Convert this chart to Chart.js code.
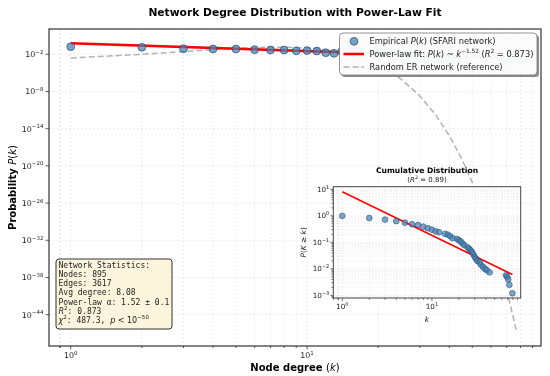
<!DOCTYPE html>
<html><head><meta charset="utf-8">
<script src="https://cdn.jsdelivr.net/npm/chart.js@4.4.1/dist/chart.umd.min.js"></script>
<style>
html,body{margin:0;padding:0;background:#fff;}
#wrap{position:relative;width:550px;height:376px;overflow:hidden;}
#main{position:absolute;left:0;top:0;}
#inset{position:absolute;left:290px;top:155px;}
</style></head><body>
<div id="wrap"><canvas id="main" width="550" height="376"></canvas><canvas id="inset" width="255" height="175"></canvas></div>
<script>
// ---------------- data ----------------
const empDegree = [1,2,3,4,5,6,7,8,9,10,11,12,13,14,15,16,17,19,20,21,22,23,25,26,27,28,29,30,31,32,34,35,37,39,41,44,67,69,71,73,79];
const empProb   = [0.17,0.135,0.08,0.072,0.072,0.055,0.049,0.049,0.036,0.04,0.034,0.018,0.0145,0.026,0.026,0.027,0.008,0.015,0.013,0.017,0.012,0.013,0.008,0.007,0.007,0.008,0.007,0.004,0.004,0.0022,0.0033,0.0025,0.002,0.0011,0.0015,0.0017,0.0011,0.0011,0.0011,0.0011,0.0011];
const fitDegree = [1,79];
const fitProb   = [0.59,0.00237];
const erDegree  = [1,2,3,4,5,6,7,8,9,10,11,12,14,15,16,18,20,22,25,30,35,40,45,50,55,60,65,70,75,77];
const erProb    = [2.50e-3,1.01e-2,2.72e-2,5.51e-2,8.89e-2,0.120,0.138,0.139,0.125,0.101,7.43e-2,5.01e-2,1.80e-2,9.66e-3,4.89e-3,1.04e-3,1.79e-4,2.53e-5,9.66e-7,1.95e-9,1.72e-12,7.50e-16,1.76e-19,2.39e-23,1.98e-27,1.04e-31,3.61e-36,8.55e-41,1.42e-45,1.58e-47];
const ccdfDegree = [1,2,3,4,5,6,7,8,9,10,11,12,14,15,16,17,19,20,21,22,23,25,26,27,28,29,30,31,32,34,35,37,39,41,44,67,69,71,73,79];
const ccdfProb   = [1.0,0.83,0.72,0.63,0.55,0.48,0.45,0.39,0.34,0.30,0.26,0.24,0.21,0.196,0.17,0.143,0.135,0.12,0.107,0.09,0.078,0.065,0.057,0.05,0.043,0.035,0.028,0.024,0.02,0.0178,0.0145,0.012,0.01,0.0089,0.0074,0.0057,0.005,0.004,0.0025,0.0012];
const ccdfFitDegree = [1,79];
const ccdfFitProb   = [8.05,0.0061];
const mainYTickExps = [-2,-8,-14,-20,-26,-32,-38,-44];
const mainXTickExps = [0,1];
const insetYTickExps = [1,0,-1,-2,-3];
const insetXTickExps = [0,1];
const minorSubs = [2,3,4,5,6,7,8,9];

// ---------------- helpers ----------------
const SANS = '"DejaVu Sans", sans-serif';
const MONO = '"DejaVu Sans Mono", monospace';
function F(size, style){ return (style||'') + ' ' + size + 'px ' + SANS; }
function M(size){ return size + 'px ' + MONO; }
function drawRich(ctx, segs, x, y, align, color){
  ctx.textBaseline = 'alphabetic'; ctx.textAlign = 'left';
  let w = 0;
  for (const s of segs){ ctx.font = s.f; s.w = ctx.measureText(s.t).width; w += s.w; }
  let cx = align === 'center' ? x - w/2 : (align === 'right' ? x - w : x);
  ctx.fillStyle = color || '#000';
  for (const s of segs){ ctx.font = s.f; ctx.fillText(s.t, cx, y - (s.dy||0)); cx += s.w; }
  return w;
}
function powSegs(e, size){
  return [{t:'10', f:F(size)}, {t:String(e).replace('-','\u2212'), f:F(size*0.7), dy:size*0.42}];
}
function roundRect(ctx, x, y, w, h, r){
  ctx.beginPath();
  ctx.moveTo(x+r,y); ctx.lineTo(x+w-r,y); ctx.quadraticCurveTo(x+w,y,x+w,y+r);
  ctx.lineTo(x+w,y+h-r); ctx.quadraticCurveTo(x+w,y+h,x+w-r,y+h);
  ctx.lineTo(x+r,y+h); ctx.quadraticCurveTo(x,y+h,x,y+h-r);
  ctx.lineTo(x,y+r); ctx.quadraticCurveTo(x,y,x+r,y); ctx.closePath();
}
function pts(xs, ys){ return xs.map((k,i)=>({x:k, y:ys[i]})); }
function minorList(lo, hi){
  const out = [];
  for (let e = Math.floor(Math.log10(lo)) - 1; e <= Math.ceil(Math.log10(hi)); e++)
    for (const s of minorSubs){ const v = s*Math.pow(10,e); if (v > lo && v < hi) out.push(v); }
  return out;
}
function vline(ctx, x, y0, y1){ ctx.beginPath(); ctx.moveTo(x,y0); ctx.lineTo(x,y1); ctx.stroke(); }
function hline(ctx, y, x0, x1){ ctx.beginPath(); ctx.moveTo(x0,y); ctx.lineTo(x1,y); ctx.stroke(); }

const ptFill = 'rgba(70,130,180,0.72)';
const ptEdge = 'rgba(30,70,110,0.85)';

// ---------------- main chart ----------------
const mainXMin = Math.pow(10,-0.092), mainXMax = Math.pow(10,1.99);
const mainYMin = Math.pow(10,-49.05), mainYMax = Math.pow(10,2.08);

const mainDeco = {
  id:'mainDeco',
  beforeDatasetsDraw(chart){
    const ctx = chart.ctx, a = chart.chartArea, xs = chart.scales.x, ys = chart.scales.y;
    ctx.save();
    ctx.strokeStyle = 'rgba(0,0,0,0.09)'; ctx.lineWidth = 0.8; ctx.setLineDash([2,2]);
    const xg = [0.9].concat(mainXTickExps.map(e=>Math.pow(10,e)), minorList(mainXMin, mainXMax));
    for (const v of xg){ const px = xs.getPixelForValue(v); if (px>a.left && px<a.right) vline(ctx, px, a.top, a.bottom); }
    for (const e of mainYTickExps){ const py = ys.getPixelForValue(Math.pow(10,e)); hline(ctx, py, a.left, a.right); }
    ctx.restore();
  },
  afterDraw(chart){
    const ctx = chart.ctx, a = chart.chartArea, xs = chart.scales.x, ys = chart.scales.y;
    ctx.save();
    // ticks
    ctx.strokeStyle = '#333'; ctx.lineWidth = 0.8; ctx.setLineDash([]);
    for (const e of mainXTickExps){ const px = xs.getPixelForValue(Math.pow(10,e)); vline(ctx, px, a.bottom, a.bottom+3.5); }
    for (const v of minorList(mainXMin, mainXMax).concat([0.9])){ const px = xs.getPixelForValue(v); if (px>a.left && px<a.right) vline(ctx, px, a.bottom, a.bottom+2); }
    for (const e of mainYTickExps){ const py = ys.getPixelForValue(Math.pow(10,e)); hline(ctx, py, a.left-3.5, a.left); }
    // frame
    ctx.lineWidth = 1.2; ctx.strokeStyle = '#333';
    ctx.strokeRect(a.left, a.top, a.right-a.left, a.bottom-a.top);
    // tick labels
    for (const e of mainYTickExps){ const py = ys.getPixelForValue(Math.pow(10,e)); drawRich(ctx, powSegs(e,7.9), a.left-5.5, py+2.9, 'right', '#222'); }
    for (const e of mainXTickExps){ const px = xs.getPixelForValue(Math.pow(10,e)); drawRich(ctx, powSegs(e,7.9), px, a.bottom+12, 'center', '#222'); }
    // title
    drawRich(ctx, [{t:'Network Degree Distribution with Power-Law Fit', f:F(10.7,'bold')}], (a.left+a.right)/2, 16.3, 'center');
    // x label
    drawRich(ctx, [{t:'Node degree ', f:F(10,'bold')},{t:'(', f:F(10)},{t:'k', f:F(10,'italic')},{t:')', f:F(10)}], (a.left+a.right)/2, 370.5, 'center');
    // y label
    ctx.save(); ctx.translate(15.7, (a.top+a.bottom)/2); ctx.rotate(-Math.PI/2);
    drawRich(ctx, [{t:'Probability ', f:F(10,'bold')},{t:'P', f:F(10,'italic')},{t:'(', f:F(10)},{t:'k', f:F(10,'italic')},{t:')', f:F(10)}], 0, 0, 'center');
    ctx.restore();
    // legend
    const lx = 339.5, ly = 33, lw = 197.5, lh = 42;
    ctx.fillStyle = 'rgba(0,0,0,0.45)'; roundRect(ctx, lx+2, ly+2, lw, lh, 3.5); ctx.fill();
    ctx.fillStyle = 'rgba(255,255,255,0.96)'; roundRect(ctx, lx, ly, lw, lh, 3.5); ctx.fill();
    ctx.strokeStyle = '#777'; ctx.lineWidth = 0.8; ctx.stroke();
    const ls = 8.3, tx = 369.5;
    // row 1
    ctx.beginPath(); ctx.arc(354, 41.3, 3.9, 0, Math.PI*2); ctx.fillStyle = ptFill; ctx.fill(); ctx.strokeStyle = ptEdge; ctx.lineWidth = 0.8; ctx.stroke();
    drawRich(ctx, [{t:'Empirical ', f:F(ls)},{t:'P', f:F(ls,'italic')},{t:'(', f:F(ls)},{t:'k', f:F(ls,'italic')},{t:') (SFARI network)', f:F(ls)}], tx, 44.3, 'left', '#222');
    // row 2
    ctx.strokeStyle = '#ff0000'; ctx.lineWidth = 2.5; hline(ctx, 54, 343.5, 364);
    drawRich(ctx, [{t:'Power-law fit: ', f:F(ls)},{t:'P', f:F(ls,'italic')},{t:'(', f:F(ls)},{t:'k', f:F(ls,'italic')},{t:') ~ ', f:F(ls)},{t:'k', f:F(ls,'italic')},{t:'\u22121.52', f:F(ls*0.7), dy:ls*0.45},{t:' (', f:F(ls)},{t:'R', f:F(ls,'italic')},{t:'2', f:F(ls*0.7), dy:ls*0.45},{t:' = 0.873)', f:F(ls)}], tx, 57, 'left', '#222');
    // row 3
    ctx.strokeStyle = 'rgba(128,128,128,0.6)'; ctx.lineWidth = 1.5; ctx.setLineDash([6,3]); hline(ctx, 67, 343.5, 364); ctx.setLineDash([]);
    drawRich(ctx, [{t:'Random ER network (reference)', f:F(ls)}], tx, 70, 'left', '#222');
    // stats box
    ctx.fillStyle = '#fcf4dc'; roundRect(ctx, 56, 259, 116, 70, 3); ctx.fill();
    ctx.strokeStyle = '#333'; ctx.lineWidth = 1; ctx.stroke();
    const ms = 8, sx = 58.5, sy0 = 267.7, dl = 9.2;
    const lines = [
      [{t:'Network Statistics:', f:M(ms)}],
      [{t:'Nodes: 895', f:M(ms)}],
      [{t:'Edges: 3617', f:M(ms)}],
      [{t:'Avg degree: 8.08', f:M(ms)}],
      [{t:'Power-law \u03b1: 1.52 \u00b1 0.1', f:M(ms)}],
      [{t:'R', f:F(ms,'italic')},{t:'2', f:F(ms*0.7), dy:ms*0.45},{t:': 0.873', f:M(ms)}],
      [{t:'\u03c7', f:F(ms,'italic')},{t:'2', f:F(ms*0.7), dy:ms*0.45},{t:': 487.3, ', f:M(ms)},{t:'p', f:F(ms,'italic')},{t:' < 10', f:F(ms)},{t:'\u221250', f:F(ms*0.7), dy:ms*0.45}]
    ];
    lines.forEach((l,i)=>drawRich(ctx, l, sx, sy0 + i*dl, 'left', '#222'));
    ctx.restore();
  }
};

new Chart(document.getElementById('main'), {
  type:'scatter',
  data:{datasets:[
    {label:'Empirical', data:pts(empDegree, empProb), showLine:false, pointRadius:3.9, pointBackgroundColor:ptFill, pointBorderColor:ptEdge, pointBorderWidth:0.8, order:0},
    {label:'Power-law fit', data:pts(fitDegree, fitProb), showLine:true, borderColor:'#ff0000', borderWidth:2.6, pointRadius:0, order:1},
    {label:'Random ER', data:pts(erDegree, erProb), showLine:true, borderColor:'rgba(128,128,128,0.6)', borderWidth:1.5, borderDash:[6,3], pointRadius:0, order:2}
  ]},
  options:{
    responsive:false, animation:false, devicePixelRatio:1,
    layout:{padding:{left:0, top:29, right:9, bottom:0}},
    plugins:{legend:{display:false}, tooltip:{enabled:false}, title:{display:false}},
    scales:{
      x:{type:'logarithmic', min:mainXMin, max:mainXMax, bounds:'data', grid:{display:false}, border:{display:false}, ticks:{display:false}, afterFit(s){ s.height = 30; }},
      y:{type:'logarithmic', min:mainYMin, max:mainYMax, bounds:'data', grid:{display:false}, border:{display:false}, ticks:{display:false}, afterFit(s){ s.width = 49; }}
    }
  },
  plugins:[mainDeco]
});

// ---------------- inset chart ----------------
const insXMin = Math.pow(10,-0.1), insXMax = Math.pow(10,1.99);
const insYMin = Math.pow(10,-3.1), insYMax = Math.pow(10,1.098);

const insetDeco = {
  id:'insetDeco',
  beforeDraw(chart){
    const ctx = chart.ctx, a = chart.chartArea;
    ctx.save(); ctx.fillStyle = '#fff'; ctx.fillRect(a.left, a.top, a.right-a.left, a.bottom-a.top); ctx.restore();
  },
  beforeDatasetsDraw(chart){
    const ctx = chart.ctx, a = chart.chartArea, xs = chart.scales.x, ys = chart.scales.y;
    ctx.save();
    ctx.strokeStyle = 'rgba(0,0,0,0.11)'; ctx.lineWidth = 0.6; ctx.setLineDash([1.5,1.5]);
    const xg = [0.9].concat(insetXTickExps.map(e=>Math.pow(10,e)), minorList(insXMin, insXMax));
    for (const v of xg){ const px = xs.getPixelForValue(v); if (px>a.left && px<a.right) vline(ctx, px, a.top, a.bottom); }
    const yg = insetYTickExps.map(e=>Math.pow(10,e)).concat(minorList(insYMin, insYMax));
    for (const v of yg){ const py = ys.getPixelForValue(v); if (py>a.top && py<a.bottom) hline(ctx, py, a.left, a.right); }
    ctx.restore();
  },
  afterDraw(chart){
    const ctx = chart.ctx, a = chart.chartArea, xs = chart.scales.x, ys = chart.scales.y;
    ctx.save();
    ctx.strokeStyle = '#333'; ctx.lineWidth = 0.7;
    for (const e of insetXTickExps){ const px = xs.getPixelForValue(Math.pow(10,e)); vline(ctx, px, a.bottom, a.bottom+3); }
    for (const v of minorList(insXMin, insXMax).concat([0.9])){ const px = xs.getPixelForValue(v); if (px>a.left && px<a.right) vline(ctx, px, a.bottom, a.bottom+1.8); }
    for (const e of insetYTickExps){ const py = ys.getPixelForValue(Math.pow(10,e)); hline(ctx, py, a.left-3, a.left); }
    for (const v of minorList(insYMin, insYMax)){ const py = ys.getPixelForValue(v); if (py>a.top && py<a.bottom) hline(ctx, py, a.left-1.8, a.left); }
    ctx.lineWidth = 1; ctx.strokeStyle = '#444';
    ctx.strokeRect(a.left, a.top, a.right-a.left, a.bottom-a.top);
    for (const e of insetYTickExps){ const py = ys.getPixelForValue(Math.pow(10,e)); drawRich(ctx, powSegs(e,7.2), a.left-4, py+2.6, 'right', '#222'); }
    for (const e of insetXTickExps){ const px = xs.getPixelForValue(Math.pow(10,e)); drawRich(ctx, powSegs(e,7.2), px, a.bottom+11.3, 'center', '#222'); }
    const cx = (a.left+a.right)/2;
    drawRich(ctx, [{t:'Cumulative Distribution', f:F(7.6,'bold')}], cx, 17.7, 'center');
    drawRich(ctx, [{t:'(', f:F(7)},{t:'R', f:F(7,'italic')},{t:'2', f:F(4.9), dy:3.1},{t:' = 0.89)', f:F(7)}], cx, 26.7, 'center', '#222');
    drawRich(ctx, [{t:'k', f:F(7.6,'italic')}], cx, 166.7, 'center', '#222');
    ctx.save(); ctx.translate(15.5, (a.top+a.bottom)/2); ctx.rotate(-Math.PI/2);
    drawRich(ctx, [{t:'P', f:F(7.4,'italic')},{t:'(', f:F(7.4)},{t:'K', f:F(7.4,'italic')},{t:' \u2265 ', f:F(7.4)},{t:'k', f:F(7.4,'italic')},{t:')', f:F(7.4)}], 0, 0, 'center', '#222');
    ctx.restore();
    ctx.restore();
  }
};

new Chart(document.getElementById('inset'), {
  type:'scatter',
  data:{datasets:[
    {label:'CCDF', data:pts(ccdfDegree, ccdfProb), showLine:false, pointRadius:2.9, pointBackgroundColor:ptFill, pointBorderColor:ptEdge, pointBorderWidth:0.6, order:0},
    {label:'fit', data:pts(ccdfFitDegree, ccdfFitProb), showLine:true, borderColor:'#ff0000', borderWidth:1.5, pointRadius:0, order:1}
  ]},
  options:{
    responsive:false, animation:false, devicePixelRatio:1,
    layout:{padding:{left:0, top:31.7, right:24.3, bottom:0}},
    plugins:{legend:{display:false}, tooltip:{enabled:false}, title:{display:false}},
    scales:{
      x:{type:'logarithmic', min:insXMin, max:insXMax, bounds:'data', grid:{display:false}, border:{display:false}, ticks:{display:false}, afterFit(s){ s.height = 32; }},
      y:{type:'logarithmic', min:insYMin, max:insYMax, bounds:'data', grid:{display:false}, border:{display:false}, ticks:{display:false}, afterFit(s){ s.width = 43.3; }}
    }
  },
  plugins:[insetDeco]
});
</script>
</body></html>
